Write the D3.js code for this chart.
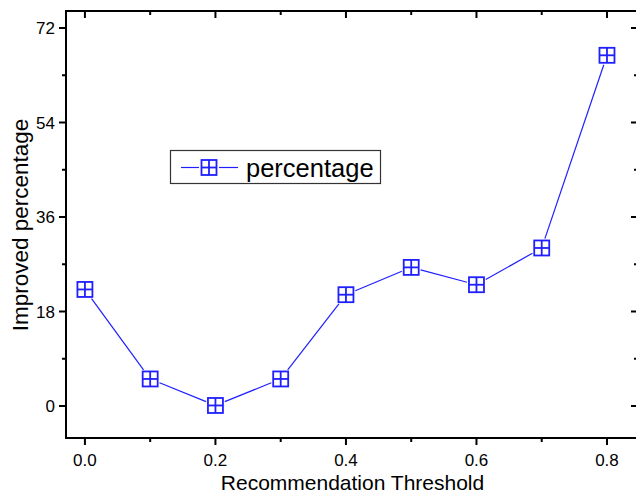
<!DOCTYPE html>
<html>
<head>
<meta charset="utf-8">
<script src="https://cdn.jsdelivr.net/npm/d3@7"></script>
<style>
  html, body { margin: 0; padding: 0; background: #fff; }
  svg { display: block; font-family: "Liberation Sans", Arial, sans-serif; }
</style>
</head>
<body>
<svg id="chart" width="636" height="494"></svg>
<script>
// Threshold values and the improvement measured at each
const thresholds = [0.0, 0.1, 0.2, 0.3, 0.4, 0.5, 0.6, 0.7, 0.8];
const improved = [22.2, 5.15, 0.1, 5.15, 21.2, 26.4, 23.1, 30.1, 66.8];
const xTicks = [0.0, 0.2, 0.4, 0.6, 0.8];
const yTicks = [0, 18, 36, 54, 72];
const seriesName = "percentage";

(function () {
const svg = d3.select("#chart");
const mLeft = 66, mRight = 637, mTop = 11, mBottom = 438;
const blue = "#1f1fff";

const x = d3.scaleLinear().domain([-0.029, 0.846]).range([mLeft, mRight]);
const y = d3.scaleLinear().domain([0, 72]).range([406, 28]);

// frame
svg.append("rect")
  .attr("x", mLeft).attr("y", mTop)
  .attr("width", mRight - mLeft).attr("height", mBottom - mTop)
  .attr("fill", "none").attr("stroke", "#000").attr("stroke-width", 2);

const tickStyle = g => g.attr("stroke", "#000").attr("stroke-width", 2);

// y ticks (left, outward) with minor ticks between
const yMinor = d3.range(9, 72, 18);
const gy = svg.append("g").call(tickStyle);
yTicks.forEach(v => gy.append("line").attr("x1", mLeft - 7).attr("x2", mLeft).attr("y1", y(v)).attr("y2", y(v)));
yMinor.forEach(v => gy.append("line").attr("x1", mLeft - 4).attr("x2", mLeft).attr("y1", y(v)).attr("y2", y(v)));
// right axis ticks (inward)
yTicks.forEach(v => gy.append("line").attr("x1", mRight - 6).attr("x2", mRight).attr("y1", y(v)).attr("y2", y(v)));
yMinor.forEach(v => gy.append("line").attr("x1", mRight - 3).attr("x2", mRight).attr("y1", y(v)).attr("y2", y(v)));

svg.append("g").selectAll("text").data(yTicks).join("text")
  .attr("x", mLeft - 11).attr("y", d => y(d) + 6)
  .attr("text-anchor", "end").attr("font-size", 17)
  .text(d => d);

// x ticks (bottom outward, top inward)
const xMinor = d3.range(0.1, 0.8, 0.2);
const gx = svg.append("g").call(tickStyle);
xTicks.forEach(v => gx.append("line").attr("x1", x(v)).attr("x2", x(v)).attr("y1", mBottom).attr("y2", mBottom + 7));
xMinor.forEach(v => gx.append("line").attr("x1", x(v)).attr("x2", x(v)).attr("y1", mBottom).attr("y2", mBottom + 4));
xTicks.forEach(v => gx.append("line").attr("x1", x(v)).attr("x2", x(v)).attr("y1", mTop).attr("y2", mTop + 7));
xMinor.forEach(v => gx.append("line").attr("x1", x(v)).attr("x2", x(v)).attr("y1", mTop).attr("y2", mTop + 4));

svg.append("g").selectAll("text").data(xTicks).join("text")
  .attr("x", d => x(d)).attr("y", 466)
  .attr("text-anchor", "middle").attr("font-size", 17)
  .text(d => d.toFixed(1));

// axis titles
svg.append("text").attr("x", (mLeft + mRight) / 2 + 1).attr("y", 490)
  .attr("text-anchor", "middle").attr("font-size", 21)
  .text("Recommendation Threshold");
svg.append("text")
  .attr("transform", `translate(28, 225) rotate(-90)`)
  .attr("text-anchor", "middle").attr("font-size", 22.5)
  .text("Improved percentage");

// line segments, trimmed so they stop short of each marker
const pts = thresholds.map((t, i) => [x(t), y(improved[i])]);
const segs = d3.pairs(pts).map(([a, b]) => {
  const dx = b[0] - a[0], dy = b[1] - a[1];
  const len = Math.hypot(dx, dy);
  const ux = dx / len, uy = dy / len;
  // distance from centre to square edge along the segment direction
  const r = 7.5 / Math.max(Math.abs(ux), Math.abs(uy)) + 2;
  return [a[0] + ux * r, a[1] + uy * r, b[0] - ux * r, b[1] - uy * r];
});
svg.append("g").selectAll("line").data(segs).join("line")
  .attr("x1", d => d[0]).attr("y1", d => d[1]).attr("x2", d => d[2]).attr("y2", d => d[3])
  .attr("stroke", blue).attr("stroke-width", 1.2);

// square markers with a cross
function marker(g, cx, cy) {
  const s = 7.5;
  g.append("rect").attr("x", cx - s).attr("y", cy - s).attr("width", 2 * s).attr("height", 2 * s)
    .attr("fill", "#fff").attr("stroke", blue).attr("stroke-width", 1.8);
  g.append("line").attr("x1", cx - s).attr("x2", cx + s).attr("y1", cy).attr("y2", cy)
    .attr("stroke", blue).attr("stroke-width", 1.8);
  g.append("line").attr("x1", cx).attr("x2", cx).attr("y1", cy - s).attr("y2", cy + s)
    .attr("stroke", blue).attr("stroke-width", 1.8);
}
const gm = svg.append("g");
pts.forEach(p => marker(gm, p[0], p[1]));

// legend
const lg = svg.append("g");
lg.append("rect").attr("x", 170.5).attr("y", 150.5).attr("width", 210).attr("height", 33)
  .attr("fill", "#fff").attr("stroke", "#333").attr("stroke-width", 1.2);
lg.append("line").attr("x1", 181).attr("x2", 199).attr("y1", 167.5).attr("y2", 167.5).attr("stroke", blue).attr("stroke-width", 1.2);
lg.append("line").attr("x1", 219).attr("x2", 238).attr("y1", 167.5).attr("y2", 167.5).attr("stroke", blue).attr("stroke-width", 1.2);
marker(lg, 209, 167.5);
lg.append("text").attr("x", 246).attr("y", 176.5).attr("font-size", 25.5).text(seriesName);
})();
</script>
</body>
</html>
